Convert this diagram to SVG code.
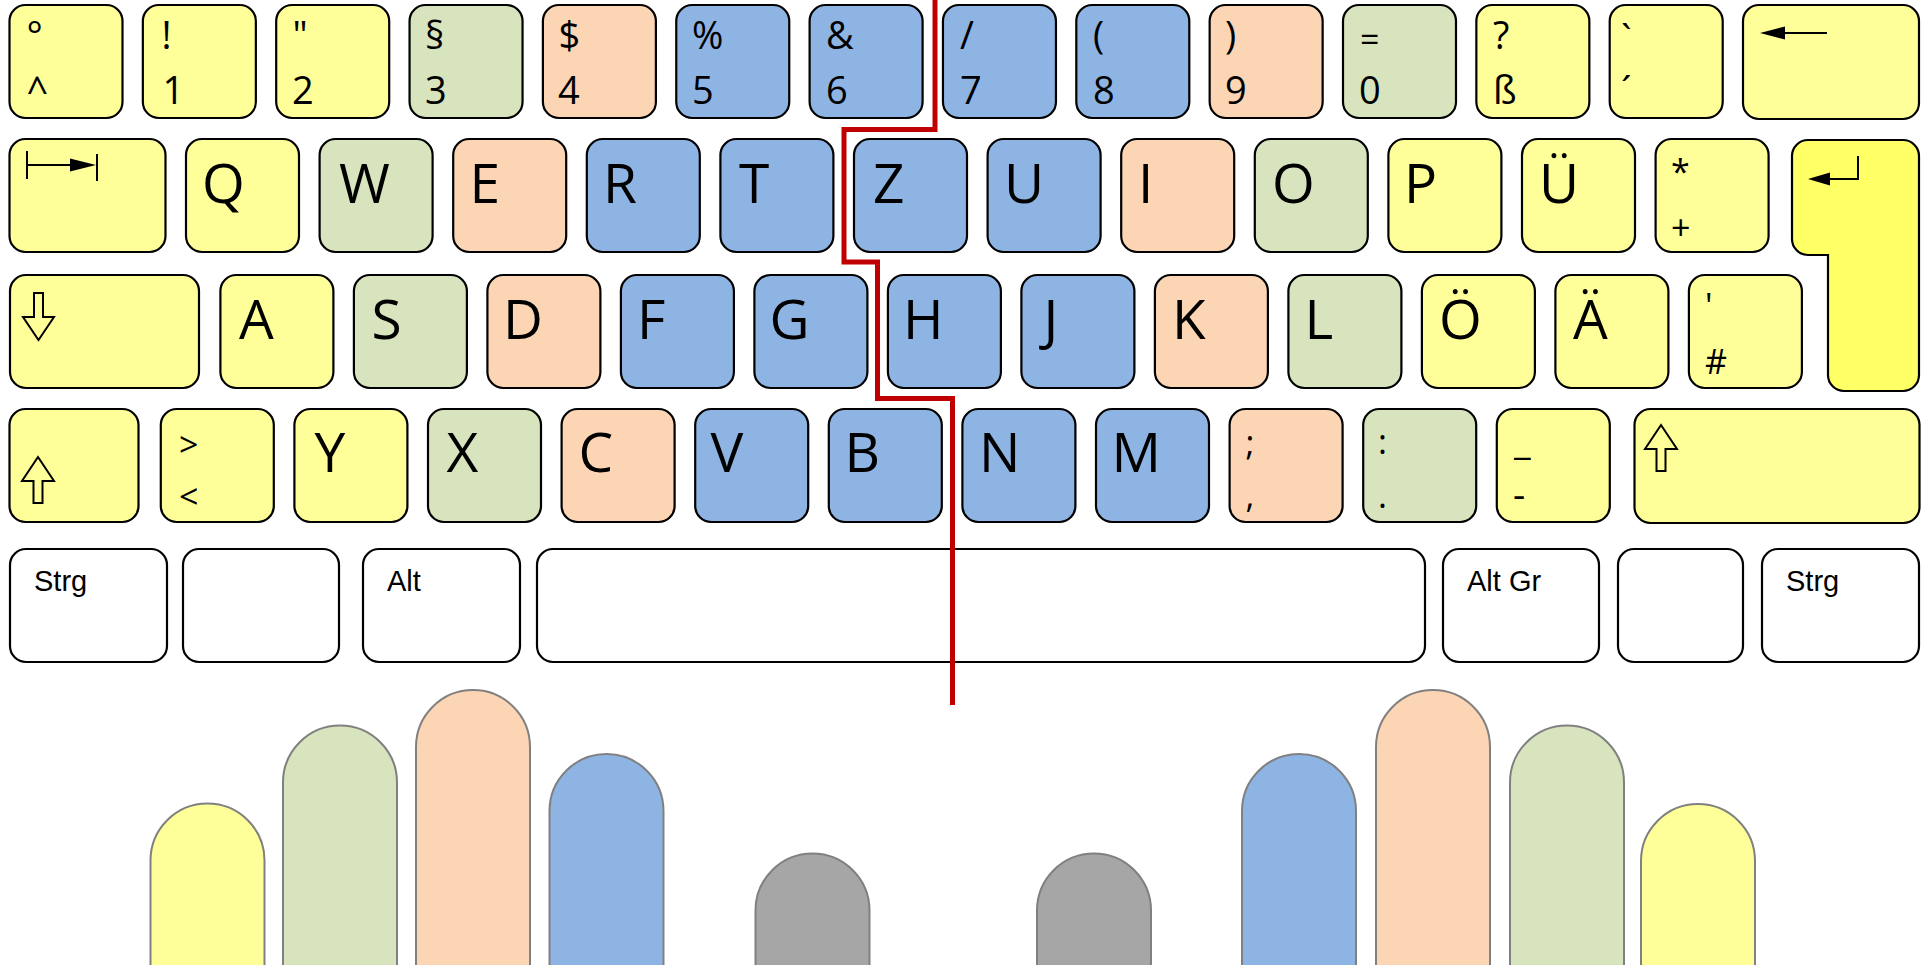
<svg xmlns="http://www.w3.org/2000/svg" width="1931" height="965" viewBox="0 0 1931 965">
<style>
.k{stroke:#000;stroke-width:2.2}
.y{fill:#FFFF99}.g{fill:#D7E4BD}.o{fill:#FCD5B5}.b{fill:#8EB4E3}.w{fill:#FFFFFF}.e{fill:#FFFF66}.gr{fill:#A6A6A6}
.t{font-family:"Open Sans","Noto Sans","Liberation Sans",sans-serif;fill:#000}
.a{font-family:"Liberation Sans",Arial,sans-serif;fill:#000}
.L{font-size:55px}.s{font-size:38px}.m{font-size:34px}.f{font-size:29px}
.sym{fill:none;stroke:#000;stroke-width:2}
.ah{fill:#000;stroke:none}
.fg{stroke:#808080;stroke-width:2}
.div{fill:none;stroke:#C00000;stroke-width:5}
</style>
<rect width="1931" height="965" fill="#fff"/>
<g id="row1">
<g id="key-circ"><rect class="k y" x="9.5" y="5" width="113" height="113" rx="16"/><text class="t s" x="26.5" y="49">°</text><text class="t s" x="26.5" y="104">^</text></g>
<g id="key-1"><rect class="k y" x="142.85" y="5" width="113" height="113" rx="16"/><text class="t s" x="161.5" y="49">!</text><text class="t s" x="162.5" y="104">1</text></g>
<g id="key-2"><rect class="k y" x="276.2" y="5" width="113" height="113" rx="16"/><text class="t s" x="292.5" y="49">"</text><text class="t s" x="292" y="104">2</text></g>
<g id="key-3"><rect class="k g" x="409.55" y="5" width="113" height="113" rx="16"/><text class="t s" x="425" y="49">§</text><text class="t s" x="425" y="104">3</text></g>
<g id="key-4"><rect class="k o" x="542.9" y="5" width="113" height="113" rx="16"/><text class="t s" x="558.5" y="49">$</text><text class="t s" x="558" y="104">4</text></g>
<g id="key-5"><rect class="k b" x="676.25" y="5" width="113" height="113" rx="16"/><text class="t s" x="692" y="49">%</text><text class="t s" x="692" y="104">5</text></g>
<g id="key-6"><rect class="k b" x="809.6" y="5" width="113" height="113" rx="16"/><text class="t s" x="826" y="49">&amp;</text><text class="t s" x="826" y="104">6</text></g>
<g id="key-7"><rect class="k b" x="942.95" y="5" width="113" height="113" rx="16"/><text class="t s" x="960" y="49">/</text><text class="t s" x="960" y="104">7</text></g>
<g id="key-8"><rect class="k b" x="1076.3" y="5" width="113" height="113" rx="16"/><text class="t s" x="1093" y="49">(</text><text class="t s" x="1093" y="104">8</text></g>
<g id="key-9"><rect class="k o" x="1209.65" y="5" width="113" height="113" rx="16"/><text class="t s" x="1225" y="49">)</text><text class="t s" x="1225" y="104">9</text></g>
<g id="key-0"><rect class="k g" x="1343" y="5" width="113" height="113" rx="16"/><text class="t m" x="1360" y="52">=</text><text class="t s" x="1359" y="104">0</text></g>
<g id="key-sz"><rect class="k y" x="1476.35" y="5" width="113" height="113" rx="16"/><text class="t s" x="1493" y="49">?</text><text class="t s" x="1493" y="104">ß</text></g>
<g id="key-acute"><rect class="k y" x="1609.7" y="5" width="113" height="113" rx="16"/><text class="t s" x="1621" y="52">`</text><text class="t s" x="1621" y="104">´</text></g>
<g id="key-backspace"><rect class="k y" x="1743" y="5" width="176" height="114" rx="16"/><line class="sym" x1="1783" y1="33" x2="1827" y2="33"/><polygon class="ah" points="1760,33 1785,26.5 1785,39.5"/></g>
</g>
<g id="row2">
<g id="key-tab"><rect class="k y" x="9.5" y="139" width="156" height="113" rx="16"/><line class="sym" x1="27" y1="151" x2="27" y2="179"/><line class="sym" x1="27" y1="165" x2="72" y2="165"/><polygon class="ah" points="70,158.5 96,165 70,171.5"/><line class="sym" x1="97" y1="154" x2="97" y2="181"/></g>
<g id="key-Q"><rect class="k y" x="186" y="139" width="113" height="113" rx="16"/><text class="t L" x="202" y="202.5">Q</text></g>
<g id="key-W"><rect class="k g" x="319.6" y="139" width="113" height="113" rx="16"/><text class="t L" x="339" y="202.5">W</text></g>
<g id="key-E"><rect class="k o" x="453.2" y="139" width="113" height="113" rx="16"/><text class="t L" x="469.5" y="202.5">E</text></g>
<g id="key-R"><rect class="k b" x="586.8" y="139" width="113" height="113" rx="16"/><text class="t L" x="603" y="202.5">R</text></g>
<g id="key-T"><rect class="k b" x="720.4" y="139" width="113" height="113" rx="16"/><text class="t L" x="739" y="202.5">T</text></g>
<g id="key-Z"><rect class="k b" x="854" y="139" width="113" height="113" rx="16"/><text class="t L" x="873" y="202.5">Z</text></g>
<g id="key-U"><rect class="k b" x="987.6" y="139" width="113" height="113" rx="16"/><text class="t L" x="1004" y="202.5">U</text></g>
<g id="key-I"><rect class="k o" x="1121.2" y="139" width="113" height="113" rx="16"/><text class="t L" x="1138" y="202.5">I</text></g>
<g id="key-O"><rect class="k g" x="1254.8" y="139" width="113" height="113" rx="16"/><text class="t L" x="1272" y="202.5">O</text></g>
<g id="key-P"><rect class="k y" x="1388.4" y="139" width="113" height="113" rx="16"/><text class="t L" x="1404" y="202.5">P</text></g>
<g id="key-Ue"><rect class="k y" x="1522" y="139" width="113" height="113" rx="16"/><text class="t L" x="1539" y="202.5">Ü</text></g>
<g id="key-plus"><rect class="k y" x="1655.6" y="139" width="113" height="113" rx="16"/><text class="t m" x="1671" y="184">*</text><text class="t m" x="1671" y="240">+</text></g>
<g id="key-enter"><path class="k e" d="M1808,140 H1903 A16,16 0 0 1 1919,156 V375 A16,16 0 0 1 1903,391 H1844 A16,16 0 0 1 1828,375 V255 H1808 A16,16 0 0 1 1792,239 V156 A16,16 0 0 1 1808,140 Z"/><polyline class="sym" points="1858,156 1858,179 1828,179"/><polygon class="ah" points="1808,179 1830,172.5 1830,185.5"/></g>
</g>
<g id="row3">
<g id="key-caps"><rect class="k y" x="10" y="275" width="189" height="113" rx="16"/><polygon class="sym" points="34,293 43,293 43,317 54,317 38.5,340 23,317 34,317"/></g>
<g id="key-A"><rect class="k y" x="220.4" y="275" width="113" height="113" rx="16"/><text class="t L" x="239" y="338.5">A</text></g>
<g id="key-S"><rect class="k g" x="353.9" y="275" width="113" height="113" rx="16"/><text class="t L" x="371.5" y="338.5">S</text></g>
<g id="key-D"><rect class="k o" x="487.4" y="275" width="113" height="113" rx="16"/><text class="t L" x="503" y="338.5">D</text></g>
<g id="key-F"><rect class="k b" x="620.9" y="275" width="113" height="113" rx="16"/><text class="t L" x="637" y="338.5">F</text></g>
<g id="key-G"><rect class="k b" x="754.4" y="275" width="113" height="113" rx="16"/><text class="t L" x="769.5" y="338.5">G</text></g>
<g id="key-H"><rect class="k b" x="887.9" y="275" width="113" height="113" rx="16"/><text class="t L" x="903" y="338.5">H</text></g>
<g id="key-J"><rect class="k b" x="1021.4" y="275" width="113" height="113" rx="16"/><text class="t L" x="1043.5" y="338.5">J</text></g>
<g id="key-K"><rect class="k o" x="1154.9" y="275" width="113" height="113" rx="16"/><text class="t L" x="1172" y="338.5">K</text></g>
<g id="key-L"><rect class="k g" x="1288.4" y="275" width="113" height="113" rx="16"/><text class="t L" x="1304.5" y="338.5">L</text></g>
<g id="key-Oe"><rect class="k y" x="1421.9" y="275" width="113" height="113" rx="16"/><text class="t L" x="1439" y="338.5">Ö</text></g>
<g id="key-Ae"><rect class="k y" x="1555.4" y="275" width="113" height="113" rx="16"/><text class="t L" x="1573" y="338.5">Ä</text></g>
<g id="key-hash"><rect class="k y" x="1688.9" y="275" width="113" height="113" rx="16"/><text class="t m" x="1705" y="318">'</text><text class="t m" x="1705" y="373.5">#</text></g>
</g>
<g id="row4">
<g id="key-shift-left"><rect class="k y" x="9.5" y="409" width="129" height="113" rx="16"/><polygon class="sym" points="38,457 54,481 42.5,481 42.5,503 33.5,503 33.5,481 22,481"/></g>
<g id="key-less"><rect class="k y" x="160.8" y="409" width="113" height="113" rx="16"/><text class="t m" x="179" y="456.5">&gt;</text><text class="t m" x="179" y="509">&lt;</text></g>
<g id="key-Y"><rect class="k y" x="294.4" y="409" width="113" height="113" rx="16"/><text class="t L" x="314.5" y="472">Y</text></g>
<g id="key-X"><rect class="k g" x="428" y="409" width="113" height="113" rx="16"/><text class="t L" x="446.5" y="472">X</text></g>
<g id="key-C"><rect class="k o" x="561.6" y="409" width="113" height="113" rx="16"/><text class="t L" x="578.5" y="472">C</text></g>
<g id="key-V"><rect class="k b" x="695.2" y="409" width="113" height="113" rx="16"/><text class="t L" x="710.5" y="472">V</text></g>
<g id="key-B"><rect class="k b" x="828.8" y="409" width="113" height="113" rx="16"/><text class="t L" x="844.5" y="472">B</text></g>
<g id="key-N"><rect class="k b" x="962.4" y="409" width="113" height="113" rx="16"/><text class="t L" x="979" y="472">N</text></g>
<g id="key-M"><rect class="k b" x="1096" y="409" width="113" height="113" rx="16"/><text class="t L" x="1111.5" y="472">M</text></g>
<g id="key-comma"><rect class="k o" x="1229.6" y="409" width="113" height="113" rx="16"/><text class="t m" x="1245.5" y="455">;</text><text class="t m" x="1245.5" y="507.5">,</text></g>
<g id="key-period"><rect class="k g" x="1363.2" y="409" width="113" height="113" rx="16"/><text class="t m" x="1378" y="454">:</text><text class="t m" x="1378" y="507.5">.</text></g>
<g id="key-minus"><rect class="k y" x="1496.8" y="409" width="113" height="113" rx="16"/><text class="t s" x="1514" y="454">_</text><text class="t s" x="1513" y="507.5">-</text></g>
<g id="key-shift-right"><rect class="k y" x="1634.5" y="409" width="285" height="114" rx="16"/><polygon class="sym" points="1661,425 1677,449 1665.5,449 1665.5,471 1656.5,471 1656.5,449 1645,449"/></g>
</g>
<g id="row5">
<g id="key-ctrl-left"><rect class="k w" x="10" y="549" width="157" height="113" rx="16"/><text class="a f" x="34" y="591">Strg</text></g>
<g id="key-win-left"><rect class="k w" x="183" y="549" width="156" height="113" rx="16"/></g>
<g id="key-alt"><rect class="k w" x="363" y="549" width="157" height="113" rx="16"/><text class="a f" x="387" y="591">Alt</text></g>
<g id="key-space"><rect class="k w" x="537" y="549" width="888" height="113" rx="16"/></g>
<g id="key-altgr"><rect class="k w" x="1443" y="549" width="156" height="113" rx="16"/><text class="a f" x="1467" y="591">Alt Gr</text></g>
<g id="key-menu"><rect class="k w" x="1618" y="549" width="125" height="113" rx="16"/></g>
<g id="key-ctrl-right"><rect class="k w" x="1762" y="549" width="157" height="113" rx="16"/><text class="a f" x="1786" y="591">Strg</text></g>
</g>
<g id="fingers">
<path id="finger-l-pinky" class="fg y" d="M150.5,972 V860.5 A57,57 0 0 1 264.5,860.5 V972"/>
<path id="finger-l-ring" class="fg g" d="M283,972 V782.5 A57,57 0 0 1 397,782.5 V972"/>
<path id="finger-l-middle" class="fg o" d="M416,972 V747 A57,57 0 0 1 530,747 V972"/>
<path id="finger-l-index" class="fg b" d="M549.5,972 V811 A57,57 0 0 1 663.5,811 V972"/>
<path id="finger-l-thumb" class="fg gr" d="M755.5,972 V910.5 A57,57 0 0 1 869.5,910.5 V972"/>
<path id="finger-r-thumb" class="fg gr" d="M1037,972 V910.5 A57,57 0 0 1 1151,910.5 V972"/>
<path id="finger-r-index" class="fg b" d="M1242,972 V811 A57,57 0 0 1 1356,811 V972"/>
<path id="finger-r-middle" class="fg o" d="M1376,972 V747 A57,57 0 0 1 1490,747 V972"/>
<path id="finger-r-ring" class="fg g" d="M1510,972 V782.5 A57,57 0 0 1 1624,782.5 V972"/>
<path id="finger-r-pinky" class="fg y" d="M1641,972 V861 A57,57 0 0 1 1755,861 V972"/>
</g>
<g id="connectors">
<polyline id="hand-divider" class="div" points="935,0 935,129.5 844,129.5 844,262 877.5,262 877.5,398.5 952.5,398.5 952.5,705"/>
</g>
</svg>
